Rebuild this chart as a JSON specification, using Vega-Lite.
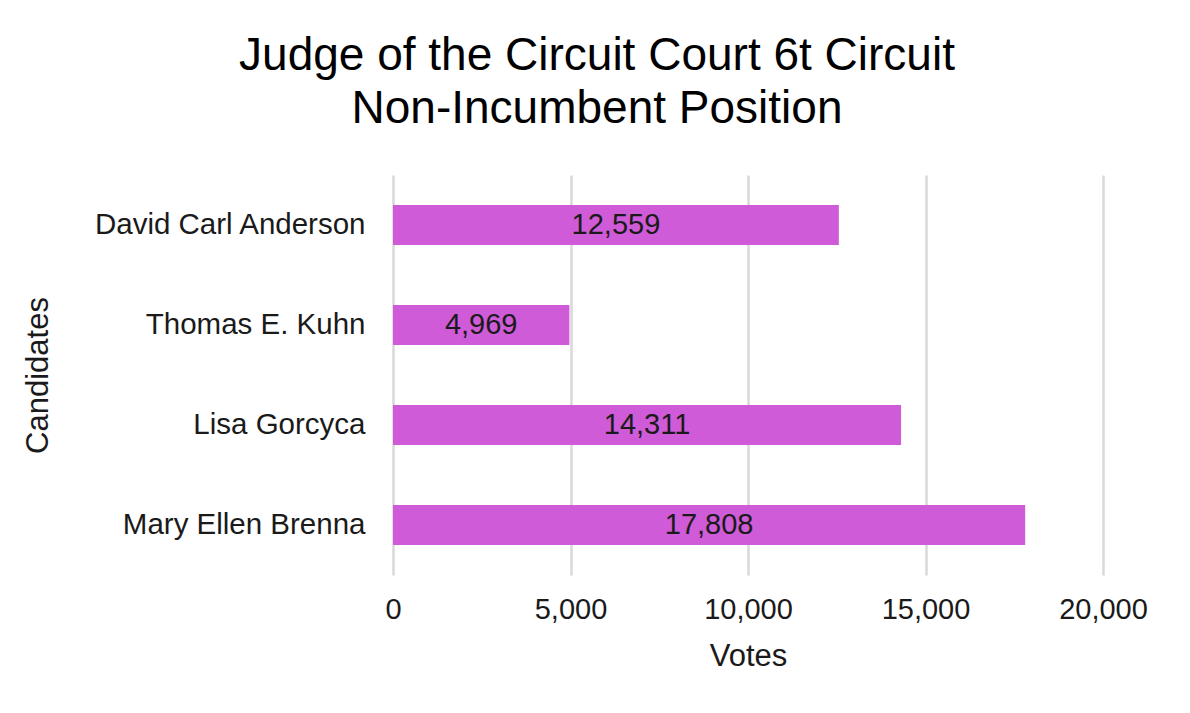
{
  "$schema": "https://vega.github.io/schema/vega-lite/v6.json",
  "width": 710,
  "height": 400,
  "autosize": {"type": "none"},
  "padding": {"left": 393, "top": 175, "right": 87, "bottom": 138},
  "background": "white",
  "title": {
    "text": ["Judge of the Circuit Court 6t Circuit", "Non-Incumbent Position"],
    "font": "Liberation Sans",
    "fontSize": 46,
    "fontWeight": "normal",
    "color": "#000000",
    "lineHeight": 53,
    "anchor": "middle",
    "frame": "group",
    "dx": -151,
    "offset": 42
  },
  "data": {
    "values": [
      {"Candidate": "David Carl Anderson", "Votes": 12559},
      {"Candidate": "Thomas E. Kuhn", "Votes": 4969},
      {"Candidate": "Lisa Gorcyca", "Votes": 14311},
      {"Candidate": "Mary Ellen Brenna", "Votes": 17808}
    ]
  },
  "transform": [{"calculate": "datum.Votes / 2", "as": "mid"}],
  "encoding": {
    "y": {
      "field": "Candidate",
      "type": "nominal",
      "sort": null,
      "scale": {"paddingInner": 0.6, "paddingOuter": 0.3},
      "axis": {
        "title": "Candidates",
        "titleFont": "Liberation Sans",
        "titleFontSize": 31,
        "titleFontWeight": "normal",
        "titleColor": "#1a1a1a",
        "titleAngle": -90,
        "titleX": -355,
        "titleY": 200,
        "titleAlign": "center",
        "titleBaseline": "middle",
        "labelFont": "Liberation Sans",
        "labelFontSize": 29.5,
        "labelColor": "#1a1a1a",
        "labelPadding": 28,
        "labelLimit": 0,
        "ticks": false,
        "domain": false,
        "grid": false
      }
    }
  },
  "layer": [
    {
      "mark": {"type": "bar", "color": "#CF5BD8"},
      "encoding": {
        "x": {
          "field": "Votes",
          "type": "quantitative",
          "scale": {"domain": [0, 20000]},
          "axis": {
            "title": "Votes",
            "titleFont": "Liberation Sans",
            "titleFontSize": 31,
            "titleFontWeight": "normal",
            "titleColor": "#1a1a1a",
            "titleY": 81,
            "titleBaseline": "middle",
            "values": [0, 5000, 10000, 15000, 20000],
            "labelExpr": "format(datum.value, ',')",
            "labelFont": "Liberation Sans",
            "labelFontSize": 29,
            "labelColor": "#1a1a1a",
            "labelPadding": 20,
            "labelFlush": false,
            "labelOverlap": false,
            "ticks": false,
            "domain": false,
            "grid": true,
            "gridColor": "#D9D9D9",
            "gridWidth": 2.5
          }
        }
      }
    },
    {
      "mark": {
        "type": "text",
        "font": "Liberation Sans",
        "fontSize": 29,
        "color": "#1a1a1a",
        "align": "center",
        "baseline": "middle"
      },
      "encoding": {
        "x": {"field": "mid", "type": "quantitative"},
        "text": {"field": "Votes", "type": "quantitative", "format": ","}
      }
    }
  ],
  "config": {"view": {"stroke": null}}
}
